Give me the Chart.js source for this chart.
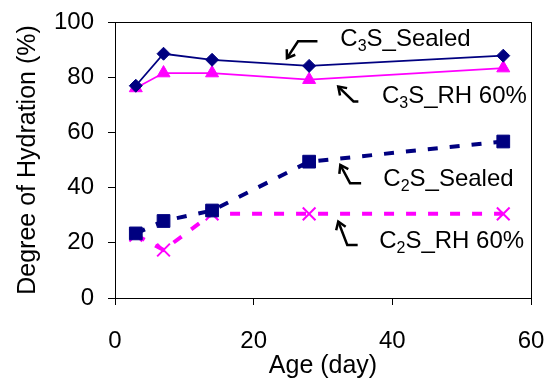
<!DOCTYPE html>
<html>
<head>
<meta charset="utf-8">
<script src="https://cdn.jsdelivr.net/npm/chart.js@4.4.0/dist/chart.umd.min.js"></script>
<style>
  html, body { margin: 0; padding: 0; background: #fff; }
  #wrap { width: 552px; height: 381px; }
</style>
</head>
<body>
<div id="wrap"><canvas id="hydration"></canvas></div>
<script>
// Age of the samples (days)
const ages = [3, 7, 14, 28, 56];

// Degree of hydration (%) for each mix / curing condition
const c3sSealed = [76.9, 88.5, 86.3, 84.1, 87.8];
const c3sRH60 = [76.1, 81.5, 81.5, 79.1, 83.3];
const c2sSealed = [23.4, 27.9, 31.7, 49.4, 56.7];
const c2sRH60 = [22.8, 17.4, 30.5, 30.5, 30.5];

// Axis ticks
const xTicks = [0, 20, 40, 60];
const yTicks = [0, 20, 40, 60, 80, 100];

const NAVY = '#000080';
const MAGENTA = '#ff00ff';
const FONT = '"Liberation Sans", Arial, sans-serif';

function pts(values) {
    return ages.map((a, i) => ({ x: a, y: values[i] }));
}

// Series labels with subscript digit, plus the little bent arrows pointing at the lines
// (coordinates in data units: [x, y])
const callouts = [
    { pre: 'C', sub: '3', post: 'S_Sealed', at: [32.5, 91.3],
      arrow: [[29.2, 93.0], [26.4, 93.0], [24.8, 86.9]] },
    { pre: 'C', sub: '3', post: 'S_RH 60%', at: [38.5, 70.6],
      arrow: [[35.1, 71.2], [34.4, 71.2], [32.2, 76.6]] },
    { pre: 'C', sub: '2', post: 'S_Sealed', at: [38.7, 40.4],
      arrow: [[35.5, 41.6], [33.9, 41.6], [32.5, 48.2]] },
    { pre: 'C', sub: '2', post: 'S_RH 60%', at: [38.1, 18.0],
      arrow: [[35.0, 19.2], [33.5, 19.2], [32.2, 27.7]] }
];

const calloutPlugin = {
    id: 'callouts',
    afterDatasetsDraw(chart) {
        const { ctx, chartArea, scales: { x, y } } = chart;
        ctx.save();

        // box round the plot area
        ctx.strokeStyle = '#000';
        ctx.lineWidth = 1;
        ctx.strokeRect(chartArea.left + 0.5, chartArea.top + 0.5,
            chartArea.right - chartArea.left, chartArea.bottom - chartArea.top);

        ctx.fillStyle = '#000';
        ctx.textBaseline = 'alphabetic';
        callouts.forEach(c => {
            let px = x.getPixelForValue(c.at[0]);
            const py = y.getPixelForValue(c.at[1]);
            ctx.font = '24px ' + FONT;
            ctx.fillText(c.pre, px, py);
            px += ctx.measureText(c.pre).width;
            ctx.font = '16px ' + FONT;
            ctx.fillText(c.sub, px, py + 5);
            px += ctx.measureText(c.sub).width;
            ctx.font = '24px ' + FONT;
            ctx.fillText(c.post, px, py);

            // arrow: polyline ending in an open head
            const p = c.arrow.map(a => [x.getPixelForValue(a[0]), y.getPixelForValue(a[1])]);
            ctx.strokeStyle = '#000';
            ctx.lineWidth = 2.5;
            ctx.lineCap = 'butt';
            ctx.lineJoin = 'miter';
            ctx.beginPath();
            ctx.moveTo(p[0][0], p[0][1]);
            for (let i = 1; i < p.length; i++) ctx.lineTo(p[i][0], p[i][1]);
            ctx.stroke();
            const [ex, ey] = p[p.length - 1];
            const [sx, sy] = p[p.length - 2];
            const ang = Math.atan2(ey - sy, ex - sx);
            const len = 9;
            ctx.beginPath();
            ctx.moveTo(ex - len * Math.cos(ang - 0.6), ey - len * Math.sin(ang - 0.6));
            ctx.lineTo(ex, ey);
            ctx.lineTo(ex - len * Math.cos(ang + 0.6), ey - len * Math.sin(ang + 0.6));
            ctx.stroke();
        });
        ctx.restore();
    }
};

new Chart(document.getElementById('hydration'), {
    type: 'line',
    data: {
        datasets: [
            {
                label: 'C3S_Sealed',
                data: pts(c3sSealed),
                borderColor: NAVY,
                backgroundColor: NAVY,
                borderWidth: 1.8,
                pointStyle: 'rectRot',
                pointRadius: 6.5,
                pointBorderWidth: 1
            },
            {
                label: 'C3S_RH 60%',
                data: pts(c3sRH60),
                borderColor: MAGENTA,
                backgroundColor: MAGENTA,
                borderWidth: 1.8,
                pointStyle: 'triangle',
                pointRadius: 7.5,
                pointBorderWidth: 1
            },
            {
                label: 'C2S_Sealed',
                data: pts(c2sSealed),
                borderColor: NAVY,
                backgroundColor: NAVY,
                borderWidth: 4,
                borderDash: [10, 12],
                pointStyle: 'rect',
                pointRadius: 9,
                pointBorderWidth: 1
            },
            {
                label: 'C2S_RH 60%',
                data: pts(c2sRH60),
                borderColor: MAGENTA,
                backgroundColor: MAGENTA,
                borderWidth: 4,
                borderDash: [10, 12],
                pointStyle: 'crossRot',
                pointRadius: 9,
                pointBorderWidth: 2
            }
        ]
    },
    options: {
        responsive: true,
        maintainAspectRatio: false,
        animation: false,
        layout: { padding: { left: 0, right: 21, top: 22, bottom: 0 } },
        plugins: {
            legend: { display: false },
            tooltip: { enabled: false }
        },
        elements: { line: { tension: 0 } },
        scales: {
            x: {
                type: 'linear',
                min: 0,
                max: 60,
                afterBuildTicks: s => { s.ticks = xTicks.map(v => ({ value: v })); },
                afterFit: s => { s.height = 83; s.paddingLeft = 0; s.paddingRight = 0; },
                grid: { drawOnChartArea: false, color: '#000', tickLength: 7, tickColor: '#000' },
                border: { color: '#000', width: 1 },
                ticks: { color: '#000', font: { family: FONT, size: 24 }, padding: 22, maxRotation: 0 },
                title: { display: true, text: 'Age (day)', color: '#000',
                         font: { family: FONT, size: 25 }, padding: { top: 0, bottom: 0 } }
            },
            y: {
                type: 'linear',
                min: 0,
                max: 100,
                afterBuildTicks: s => { s.ticks = yTicks.map(v => ({ value: v })); },
                afterFit: s => { s.width = 115; s.paddingTop = 0; s.paddingBottom = 0; },
                grid: { drawOnChartArea: false, color: '#000', tickLength: 7, tickColor: '#000' },
                border: { color: '#000', width: 1 },
                ticks: { color: '#000', font: { family: FONT, size: 24 }, padding: 14 },
                title: { display: true, text: 'Degree of Hydration (%)', color: '#000',
                         font: { family: FONT, size: 25 }, padding: { top: 13, bottom: 0 } }
            }
        }
    },
    plugins: [calloutPlugin]
});
</script>
</body>
</html>
